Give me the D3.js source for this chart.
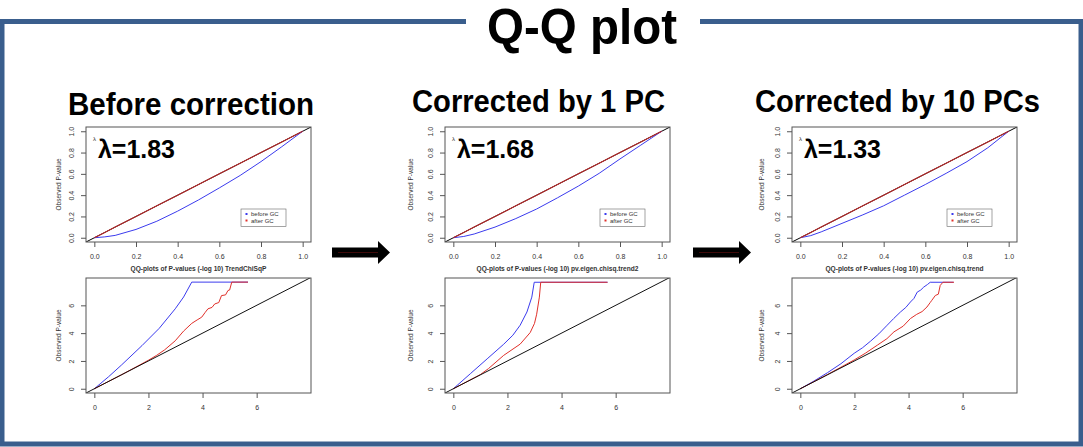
<!DOCTYPE html>
<html>
<head>
<meta charset="utf-8">
<script src="https://cdn.jsdelivr.net/npm/d3@7"></script>
<style>
  body { margin: 0; background: #fff; }
  svg { display: block; }
  text { font-family: "Liberation Sans", Arial, sans-serif; }
  .head { font-family: "Liberation Sans Narrow", "Liberation Sans", Arial, sans-serif; font-weight: bold; fill: #000; }
  .rplot text { fill: #333; }
</style>
</head>
<body>
<svg width="1083" height="447"></svg>
<script>
// ---- data ----
const panelTitles = ["Before correction", "Corrected by 1 PC", "Corrected by 10 PCs"];
const lambdas = ["1.83", "1.68", "1.33"];
const statNames = ["TrendChiSqP", "pv.eigen.chisq.trend2", "pv.eigen.chisq.trend"];

// top row: expected vs observed P-value
const pExpected = [0, 0.05, 0.1, 0.2, 0.3, 0.4, 0.5, 0.6, 0.7, 0.8, 0.9, 1.0];
const pBefore1 = [0, 0.008, 0.022, 0.078, 0.155, 0.25, 0.355, 0.468, 0.585, 0.715, 0.855, 1.0];
const pBefore2 = [0, 0.012, 0.035, 0.1, 0.18, 0.27, 0.375, 0.485, 0.605, 0.74, 0.87, 1.0];
const pBefore3 = [0, 0.02, 0.055, 0.135, 0.215, 0.3, 0.4, 0.5, 0.605, 0.715, 0.845, 1.0];
const pAfter1 = [0, 0.05, 0.1, 0.2, 0.3, 0.4, 0.5, 0.6, 0.7, 0.8, 0.9, 1.0];
const pAfter2 = [0, 0.05, 0.1, 0.2, 0.3, 0.4, 0.5, 0.6, 0.7, 0.8, 0.9, 1.0];
const pAfter3 = [0, 0.05, 0.1, 0.2, 0.3, 0.4, 0.5, 0.6, 0.7, 0.8, 0.9, 1.0];

// bottom row: -log10 expected vs observed
const b1BlueX = [0, 0.53, 1.0, 1.76, 2.4, 2.99, 3.3, 3.6, 5.68];
const b1BlueY = [0, 0.87, 1.7, 3.1, 4.35, 5.75, 6.6, 7.67, 7.67];
const b1RedX = [0, 1.0, 2.0, 2.3, 2.6, 2.99, 3.3, 3.6, 3.8, 3.97, 4.1, 4.2, 4.35, 4.45, 4.6, 4.7, 4.85, 4.94, 5.0, 5.08, 5.68];
const b1RedY = [0, 1.0, 2.05, 2.4, 2.8, 3.45, 4.15, 4.7, 4.95, 5.15, 5.5, 5.75, 5.85, 6.1, 6.2, 6.7, 6.75, 7.07, 7.1, 7.67, 7.67];
const b2BlueX = [0, 0.64, 1.25, 1.86, 2.2, 2.47, 2.72, 2.9, 2.99, 5.7];
const b2BlueY = [0, 1.1, 2.15, 3.2, 3.85, 4.57, 5.52, 6.59, 7.66, 7.66];
const b2RedX = [0, 1.0, 1.3, 1.86, 2.47, 2.84, 3.0, 3.08, 3.18, 3.23, 5.7];
const b2RedY = [0, 1.02, 1.45, 2.4, 3.21, 4.04, 4.7, 5.36, 6.59, 7.66, 7.66];
const b3BlueX = [0, 0.5, 1.0, 1.5, 1.99, 2.3, 2.6, 2.9, 3.21, 3.45, 3.7, 3.9, 4.07, 4.2, 4.32, 4.45, 4.56, 4.7, 4.8, 5.66];
const b3BlueY = [0, 0.55, 1.15, 1.8, 2.55, 2.95, 3.43, 3.95, 4.57, 5.05, 5.52, 5.85, 6.24, 6.5, 6.95, 7.1, 7.31, 7.5, 7.66, 7.66];
const b3RedX = [0, 1.0, 1.99, 2.4, 2.85, 3.2, 3.46, 3.8, 4.07, 4.3, 4.5, 4.68, 4.8, 4.86, 4.99, 5.1, 5.17, 5.27, 5.68];
const b3RedY = [0, 1.02, 2.07, 2.55, 3.14, 3.6, 4.09, 4.5, 5.05, 5.35, 5.55, 5.88, 6.2, 6.36, 6.71, 6.8, 7.43, 7.66, 7.66];

const pTicks = [0, 0.2, 0.4, 0.6, 0.8, 1.0];
const logTicks = [0, 2, 4, 6];
const legendLabels = ["before GC", "after GC"];

// ---- layout ----
const svg = d3.select("svg");
const blue = "#3b3bee";
const red = "#e0302a";
const frameColor = "#3a5e8d";

const boxLefts = [86, 445, 792];
const boxW = 225;
const boxH = 115;
const topY = 127;
const botY = 278;
const ylabOffsets = [25, 32, 28];
const titleSpans = [[68, 314, 115], [412, 665, 112], [755, 1040, 112]];

// frame
svg.append("rect")
  .attr("x", 2).attr("y", 21.5)
  .attr("width", 1079).attr("height", 422.5)
  .attr("fill", "none")
  .attr("stroke", frameColor)
  .attr("stroke-width", 5);
svg.append("rect")
  .attr("x", 466).attr("y", 12)
  .attr("width", 234).attr("height", 16)
  .attr("fill", "#fff");
svg.append("text")
  .attr("class", "head")
  .attr("x", 487).attr("y", 44)
  .attr("font-size", 50)
  .attr("textLength", 190)
  .attr("lengthAdjust", "spacingAndGlyphs")
  .text("Q-Q plot");

// arrows
[[332, 390], [693, 751]].forEach(([a, b]) => {
  svg.append("path")
    .attr("d", `M${a},247.5L${b - 12},247.5L${b - 12},241L${b},252.5L${b - 12},264L${b - 12},257.5L${a},257.5Z`)
    .attr("fill", "#000");
  svg.append("line")
    .attr("x1", a + 6).attr("x2", b - 12)
    .attr("y1", 252.5).attr("y2", 252.5)
    .attr("stroke", "#6a1010").attr("stroke-width", 0.6);
});

function zip(xs, ys) {
  return xs.map((d, i) => [d, ys[i]]);
}

function drawPlot(i, row, top, cfg) {
  const left = boxLefts[i];
  const g = svg.append("g").attr("class", "rplot");
  const x = d3.scaleLinear().domain(cfg.xDomain).range([left, left + boxW]);
  const y = d3.scaleLinear().domain(cfg.yDomain).range([top + boxH, top]);
  const clipId = `clip-${row}-${i}`;

  g.append("clipPath").attr("id", clipId)
    .append("rect")
    .attr("x", left).attr("y", top)
    .attr("width", boxW).attr("height", boxH);

  const line = d3.line().x((d) => x(d[0])).y((d) => y(d[1]));
  const plotArea = g.append("g").attr("clip-path", `url(#${clipId})`);

  const diag = [[cfg.xDomain[0], cfg.xDomain[0]], [cfg.xDomain[1], cfg.xDomain[1]]];
  if (cfg.diagUnder) {
    plotArea.append("path").attr("d", line(diag))
      .attr("fill", "none").attr("stroke", "#000").attr("stroke-width", 1);
  }
  cfg.series.forEach((s) => {
    plotArea.append("path")
      .attr("d", line(s.points))
      .attr("fill", "none")
      .attr("stroke", s.color)
      .attr("stroke-width", s.width || 1)
      .attr("stroke-linejoin", "round");
  });
  if (!cfg.diagUnder) {
    plotArea.append("path").attr("d", line(diag))
      .attr("fill", "none").attr("stroke", "#111").attr("stroke-width", 1);
  }

  g.append("rect")
    .attr("x", left).attr("y", top)
    .attr("width", boxW).attr("height", boxH)
    .attr("fill", "none")
    .attr("stroke", "#555")
    .attr("stroke-width", 1);

  const xAxis = g.append("g")
    .attr("transform", `translate(0,${top + boxH})`)
    .call(d3.axisBottom(x).tickValues(cfg.ticks).tickFormat(cfg.fmt).tickSize(5).tickSizeOuter(0).tickPadding(7));
  const yAxis = g.append("g")
    .attr("transform", `translate(${left},0)`)
    .call(d3.axisLeft(y).tickValues(cfg.ticks).tickFormat(cfg.fmt).tickSize(5).tickSizeOuter(0));
  [xAxis, yAxis].forEach((a) => {
    a.select(".domain").remove();
    a.selectAll(".tick line").attr("stroke", "#555");
    a.selectAll("text").attr("font-size", 7).attr("fill", "#444");
  });
  yAxis.selectAll("text")
    .attr("transform", "rotate(-90)")
    .attr("x", 0).attr("y", -12).attr("dy", 0)
    .attr("text-anchor", "middle");

  g.append("text")
    .attr("transform", `translate(${left - ylabOffsets[i]},${top + boxH / 2}) rotate(-90)`)
    .attr("text-anchor", "middle")
    .attr("font-size", 6.5)
    .attr("fill", "#444")
    .text("Observed P-value");

  return { g, x, y, left };
}

panelTitles.forEach((title, i) => {
  const [tx0, tx1, tb] = titleSpans[i];
  svg.append("text")
    .attr("class", "head")
    .attr("x", tx0).attr("y", tb)
    .attr("font-size", 31)
    .attr("textLength", tx1 - tx0)
    .attr("lengthAdjust", "spacingAndGlyphs")
    .text(title);

  const before = [pBefore1, pBefore2, pBefore3][i];
  const after = [pAfter1, pAfter2, pAfter3][i];
  const topPlot = drawPlot(i, "top", topY, {
    xDomain: [-0.04, 1.04],
    yDomain: [-0.04, 1.04],
    ticks: pTicks,
    fmt: d3.format(".1f"),
    diagUnder: true,
    series: [
      { points: zip(pExpected, before), color: blue },
      { points: zip(pExpected, after), color: "#b82a2a", width: 1.1 },
    ],
  });

  // x-axis title (bold) below the top plot
  topPlot.g.append("text")
    .attr("x", topPlot.left + boxW / 2)
    .attr("y", topY + boxH + 29)
    .attr("text-anchor", "middle")
    .attr("font-size", 6.6)
    .attr("font-weight", "bold")
    .attr("fill", "#222")
    .text(`QQ-plots of P-values (-log 10) ${statNames[i]}`);

  // legend
  const lx = topPlot.left + boxW - 70;
  const ly = topY + 82;
  const legend = topPlot.g.append("g");
  legend.append("rect")
    .attr("x", lx).attr("y", ly)
    .attr("width", 45).attr("height", 17.5)
    .attr("fill", "#fff").attr("stroke", "#666").attr("stroke-width", 0.6);
  legendLabels.forEach((lab, k) => {
    legend.append("rect")
      .attr("x", lx + 4.5).attr("y", ly + 4 + k * 6.5)
      .attr("width", 2).attr("height", 2)
      .attr("fill", k === 0 ? blue : red);
    legend.append("text")
      .attr("x", lx + 10).attr("y", ly + 7.2 + k * 6.5)
      .attr("font-size", 6).attr("fill", "#333")
      .text(lab);
  });

  // small lambda from the original plot, then the big overlay label
  topPlot.g.append("text")
    .attr("x", topPlot.left + 7).attr("y", topY + 14)
    .attr("font-size", 6).attr("fill", "#666")
    .text("λ");
  svg.append("text")
    .attr("class", "head")
    .attr("x", topPlot.left + 12).attr("y", 158)
    .attr("font-size", 25)
    .attr("textLength", 77)
    .attr("lengthAdjust", "spacingAndGlyphs")
    .text(`λ=${lambdas[i]}`);

  const blueX = [b1BlueX, b2BlueX, b3BlueX][i];
  const blueY = [b1BlueY, b2BlueY, b3BlueY][i];
  const redX = [b1RedX, b2RedX, b3RedX][i];
  const redY = [b1RedY, b2RedY, b3RedY][i];
  drawPlot(i, "bot", botY, {
    xDomain: [-0.308, 8.008],
    yDomain: [-0.306, 7.966],
    ticks: logTicks,
    fmt: d3.format("d"),
    diagUnder: false,
    series: [
      { points: zip(blueX, blueY), color: blue },
      { points: zip(redX, redY), color: red },
    ],
  });
});
</script>
</body>
</html>
